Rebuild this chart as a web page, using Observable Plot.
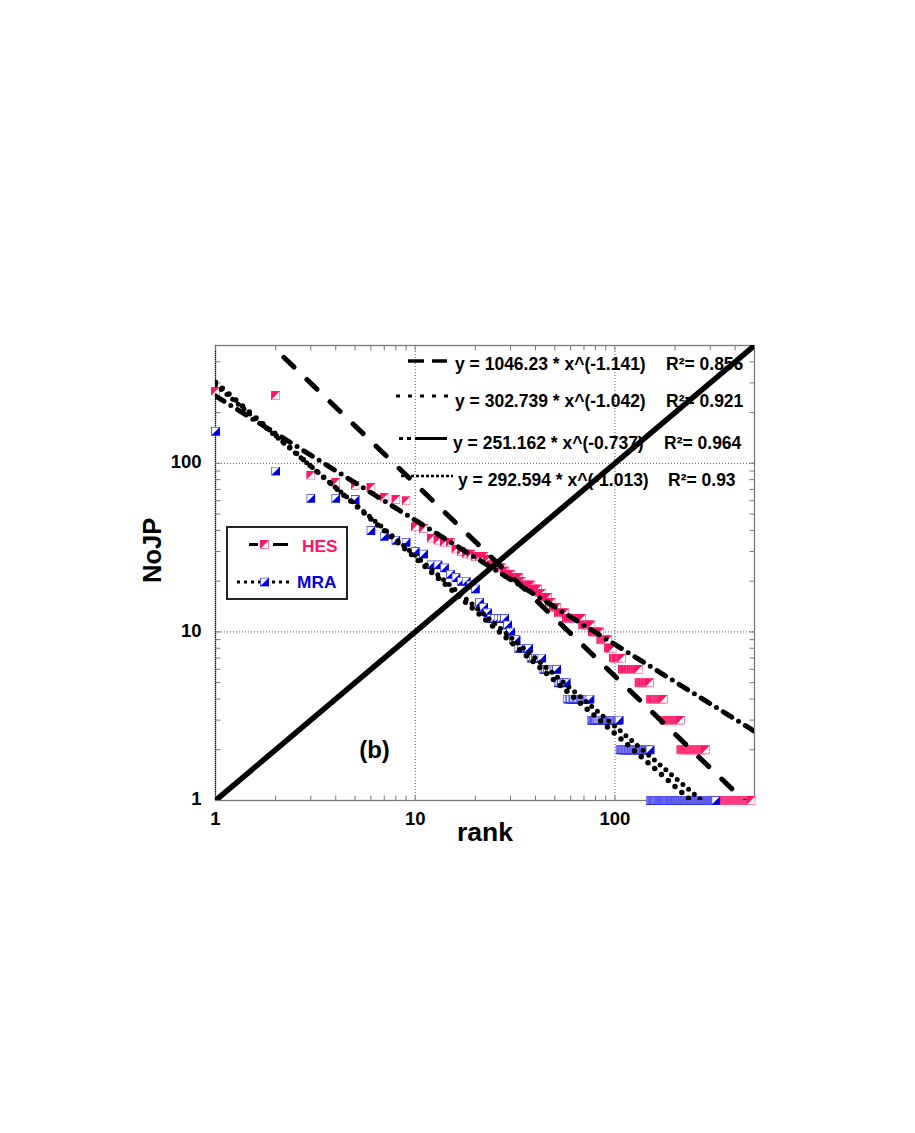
<!DOCTYPE html>
<html>
<head>
<meta charset="utf-8">
<script src="https://cdn.jsdelivr.net/npm/d3@7"></script>
<script src="https://cdn.jsdelivr.net/npm/@observablehq/plot@0.6"></script>
<style>
  body { margin: 0; background: #ffffff; }
  #chart { width: 915px; height: 1133px; }
</style>
</head>
<body>
<div id="chart"></div>
<script>
// ---------------- data ----------------
// HES: number of joint papers (NoJP) by value, with how many ranked items share it
const hesValues = [268,253,85,77,74,72,63,61,60,42,41,36,35,34,31,30,29,28,27,25,24,23,22,21,20,19,18,17,16,15,14,13,12,11,10,9,8,7,6,5,4,3,2,1];
const hesCounts = [1,1,1,1,1,1,1,1,1,1,1,1,1,2,1,1,2,3,1,2,2,1,2,3,1,4,3,2,3,2,3,5,12,8,8,8,5,11,23,18,26,38,71,196];
// MRA
const mraValues = [155,90,62,61,40,37,35,34,30,29,25,24,22,21,20,19,18,15,14,13,12,11,10,9,8,7,6,5,4,3,2,1];
const mraCounts = [1,1,2,1,1,1,1,1,1,1,2,1,1,1,2,1,1,1,1,1,5,1,1,2,5,6,8,6,18,30,45,170];

// power-law fits y = a * x^b shown in the chart
const fitA = [1046.23, 302.739, 251.162, 292.594];
const fitB = [-1.141, -1.042, -0.737, -1.013];
const fitR2 = ["0.856", "0.921", "0.964", "0.93"];
const fitStart = [2.2, 1, 1, 1];

// axis domain / ticks
const domain = [1, 500];
const minorTicks = [1,2,3,4,5,6,7,8,9,10,20,30,40,50,60,70,80,90,100,200,300,400,500];
const tickLabels = [1, 10, 100];
const gridValues = [10, 100];
const refLine = [1, 500]; // y = x reference line

// ---------------- build tables ----------------
function expand(values, counts, series) {
  const out = []; let r = 0;
  values.forEach((v, i) => { for (let k = 0; k < counts[i]; k++) { r++; out.push({rank: r, value: v, series}); } });
  return out;
}
const hes = expand(hesValues, hesCounts, "HES");
const mra = expand(mraValues, mraCounts, "MRA");

const fits = [];
fitA.forEach((a, i) => {
  const x0 = fitStart[i], x1 = domain[1], n = 400;
  for (let k = 0; k < n; k++) {
    const x = x0 * Math.pow(x1 / x0, k / (n - 1));
    const y = a * Math.pow(x, fitB[i]);
    if (y >= 0.9) fits.push({fit: i, x, y});
  }
});

const FONT = "'Liberation Sans', Arial, Helvetica, sans-serif";
const HES_COL = "#ff1466", HES_LIGHT = "#ff80aa";
const MRA_COL = "#0000dd", MRA_LIGHT = "#4f4fec";

function markerSrc(kind) {
  const svg = kind === "HES"
    ? `<svg xmlns='http://www.w3.org/2000/svg' width='9' height='9' viewBox='0 0 9 9'><rect x='0.5' y='0.5' width='8' height='8' fill='white' stroke='${HES_LIGHT}'/><path d='M0,0H9L0,9Z' fill='${HES_COL}'/></svg>`
    : `<svg xmlns='http://www.w3.org/2000/svg' width='9' height='9' viewBox='0 0 9 9'><rect x='0.5' y='0.5' width='8' height='8' fill='white' stroke='${MRA_LIGHT}'/><path d='M9,0V9H0Z' fill='${MRA_COL}'/></svg>`;
  return "data:image/svg+xml;charset=utf-8," + encodeURIComponent(svg);
}
const hesSrc = markerSrc("HES"), mraSrc = markerSrc("MRA");

const tickSym = (dx, dy) => ({ draw(ctx) { ctx.moveTo(0, 0); ctx.lineTo(dx, dy); } });
const TICK = "#7a7a7a";

const fitStyles = [
  {stroke: "black", strokeWidth: 5, strokeDasharray: "14,18", strokeLinecap: "round"},
  {stroke: "black", strokeWidth: 5.5, strokeDasharray: "0,9", strokeLinecap: "round"},
  {stroke: "black", strokeWidth: 5, strokeDasharray: "10,8,0,8", strokeLinecap: "round"},
  {stroke: "black", strokeWidth: 5, strokeDasharray: "0,7.5", strokeLinecap: "round"}
];

const chart = Plot.plot({
  width: 915,
  height: 1133,
  marginLeft: 215,
  marginRight: 161,
  marginTop: 345,
  marginBottom: 333,
  style: {fontFamily: FONT, background: "white", overflow: "visible"},
  x: {type: "log", domain, axis: null},
  y: {type: "log", domain, axis: null},
  marks: [
    // grid
    Plot.ruleX(gridValues, {stroke: "#555", strokeWidth: 1, strokeDasharray: "1,2"}),
    Plot.ruleY(gridValues, {stroke: "#555", strokeWidth: 1, strokeDasharray: "1,2"}),
    Plot.frame({stroke: TICK, strokeWidth: 1.3}),
    Plot.ruleX([domain[0]], {stroke: "#111", strokeWidth: 1.2, strokeDasharray: "1,1"}),
    // tick marks (inward) on all four sides
    Plot.dot(minorTicks, {x: d => d, y: () => domain[0], symbol: tickSym(0, -5), stroke: TICK, fill: "none", strokeWidth: 1}),
    Plot.dot(minorTicks, {x: d => d, y: () => domain[1], symbol: tickSym(0, 5), stroke: TICK, fill: "none", strokeWidth: 1}),
    Plot.dot(minorTicks, {x: () => domain[0], y: d => d, symbol: tickSym(5, 0), stroke: TICK, fill: "none", strokeWidth: 1}),
    Plot.dot(minorTicks, {x: () => domain[1], y: d => d, symbol: tickSym(-5, 0), stroke: TICK, fill: "none", strokeWidth: 1}),
    // tick labels
    Plot.text(tickLabels, {x: d => d, y: () => domain[0], text: d => String(d), dy: 19, fontSize: 18.5, fontWeight: "bold", fill: "black"}),
    Plot.text(tickLabels, {x: () => domain[0], y: d => d, text: d => String(d), dx: -14, dy: -1, textAnchor: "end", fontSize: 18.5, fontWeight: "bold", fill: "black"}),
    // axis titles
    Plot.text(["rank"], {frameAnchor: "bottom", text: d => d, dy: 40, fontSize: 26.5, fontWeight: "bold", fill: "black"}),
    Plot.text(["NoJP"], {frameAnchor: "left", text: d => d, dx: -63, dy: 10, rotate: -90, fontSize: 25.5, fontWeight: "bold", fill: "black"}),
    // data markers
    Plot.image(hes, {x: "rank", y: "value", src: () => hesSrc, width: 9, height: 9}),
    Plot.image(mra, {x: "rank", y: "value", src: () => mraSrc, width: 9, height: 9}),
    // fit lines
    ...fitA.map((a, i) => Plot.line(fits.filter(d => d.fit === i), {x: "x", y: "y", clip: true, ...fitStyles[i]})),
    // y = x reference
    Plot.line(refLine, {x: d => d, y: d => d, stroke: "black", strokeWidth: 5.5, clip: true}),
    // panel label
    Plot.text(["(b)"], {frameAnchor: "bottom-left", text: d => d, dx: 159, dy: -43, textAnchor: "middle", fontSize: 24, fontWeight: "bold", fill: "black"})
  ]
});
document.getElementById("chart").appendChild(chart);

// ---------------- in-plot legends ----------------
const svg = d3.select(chart);
const lg = svg.append("g").attr("font-family", FONT).attr("font-weight", "bold").attr("text-anchor", "start");

// equation rows
const eqBase = [370, 407.3, 449, 486];
const eqX = [455, 455, 453, 458];
const r2X = [666, 666, 664, 668];
const sampleY = [361, 396, 438.5, 476];
const samples = [
  {x1: 408, x2: 447, dash: "16,8", w: 3.5},
  {x1: 396, x2: 451, dash: "4,8", w: 3},
  {x1: 399, x2: 447, dash: "4,4,4,4,40", w: 3},
  {x1: 401, x2: 453, dash: "3,2", w: 2.5}
];
fitA.forEach((a, i) => {
  const s = samples[i];
  lg.append("line").attr("x1", s.x1).attr("x2", s.x2).attr("y1", sampleY[i]).attr("y2", sampleY[i])
    .attr("stroke", "black").attr("stroke-width", s.w).attr("stroke-dasharray", s.dash);
  lg.append("text").attr("x", eqX[i]).attr("y", eqBase[i]).attr("font-size", 17.5).attr("fill", "black")
    .text(`y = ${a} * x^(${fitB[i].toFixed(3)})`);
  lg.append("text").attr("x", r2X[i]).attr("y", eqBase[i]).attr("font-size", 17.5).attr("fill", "black")
    .text(`R\u00b2= ${fitR2[i]}`);
});

// series legend box
lg.append("rect").attr("x", 227).attr("y", 527).attr("width", 120).attr("height", 72)
  .attr("fill", "white").attr("stroke", "#222").attr("stroke-width", 2);
lg.append("line").attr("x1", 249).attr("x2", 288).attr("y1", 544.5).attr("y2", 544.5)
  .attr("stroke", "black").attr("stroke-width", 3).attr("stroke-dasharray", "9,15,15");
lg.append("image").attr("href", hesSrc).attr("x", 260).attr("y", 540).attr("width", 9).attr("height", 9);
lg.append("text").attr("x", 302).attr("y", 551.7).attr("font-size", 17.3).attr("fill", HES_COL).text("HES");
lg.append("line").attr("x1", 237).attr("x2", 292).attr("y1", 582).attr("y2", 582)
  .attr("stroke", "black").attr("stroke-width", 3).attr("stroke-dasharray", "3,4");
lg.append("image").attr("href", mraSrc).attr("x", 260).attr("y", 577.5).attr("width", 9).attr("height", 9);
lg.append("text").attr("x", 297).attr("y", 588.3).attr("font-size", 17.3).attr("fill", MRA_COL).text("MRA");
</script>
</body>
</html>
